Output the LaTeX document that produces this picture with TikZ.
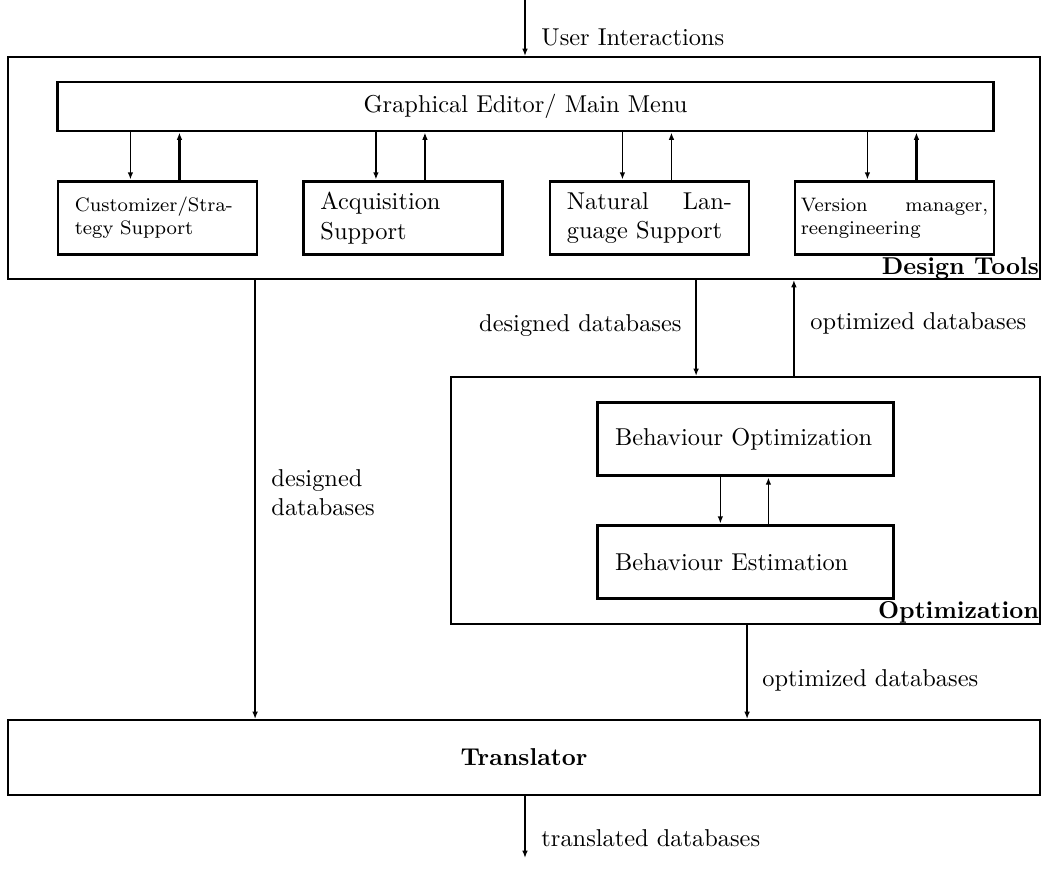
\documentclass[tikz,border=0pt]{standalone}
\usetikzlibrary{arrows.meta}
\begin{document}
\begin{tikzpicture}[x=0.41pt,y=-0.41pt,
  outerbox/.style={draw, line width=0.8pt, inner sep=0pt},
  innerbox/.style={draw, line width=1.2pt, inner ysep=1pt, align=left,
    minimum width=81.6pt, minimum height=30.3pt},
  tip/.style={-{Latex[length=3pt,width=2.3pt]}},
  thinarrow/.style={tip, line width=0.6pt},
  thickarrow/.style={tip, line width=1.1pt},
  lbl/.style={inner sep=0pt, font=\normalsize},
  corner/.style={inner sep=0pt, anchor=base east, font=\bfseries}]
\useasboundingbox (0,0) rectangle (1042,871);

% Design tools
\node[outerbox, minimum width=423.1pt, minimum height=91pt] (dt) at (524,168) {};
\node[corner] (dtl) at ([shift={(-0.6pt,2.2pt)}]dt.south east) {Design Tools};
\node[draw, line width=1.2pt, minimum width=383.4pt, minimum height=20.1pt, inner sep=0pt] (ge) at (525.5,106.5) {Graphical Editor/ Main Menu};

\node[innerbox, text width=67.7pt, inner xsep=6.95pt, font=\footnotesize] (b1) at (157.5,218) {Customizer/Stra-\\tegy Support};
\node[innerbox, text width=67.7pt, inner xsep=6.95pt] (b2) at (403,218) {Acquisition\\Support};
\node[innerbox, text width=67.7pt, inner xsep=6.95pt] (b3) at (649.5,218) {\makebox[67.7pt][l]{Natural\hfill Lan-}\\guage Support};
\node[innerbox, text width=76.8pt, inner xsep=2.4pt, font=\footnotesize] (b4) at (894.5,218) {\makebox[76.8pt][l]{Version\hfill manager,}\\reengineering};

\foreach \b/\t in {b1/thickarrow, b2/thickarrow, b3/thinarrow, b4/thickarrow}{
  \draw[thinarrow] ([xshift=30.3pt]\b.north west |- ge.south) -- ([xshift=30.3pt]\b.north west);
  \draw[\t] ([xshift=50.4pt]\b.north west) -- ([xshift=50.4pt]\b.north west |- ge.south);
}

% User interactions
\coordinate (uitop) at (525,0);
\draw[thickarrow] (uitop) -- (uitop |- dt.north);
\node[lbl, anchor=west] (ui) at (541,37) {User Interactions};

% Optimization
\node[outerbox, minimum width=241.5pt, minimum height=101.3pt] (opt) at (745.5,500.5) {};
\node[corner] (optl) at ([shift={(-0.6pt,2.8pt)}]opt.south east) {Optimization};
\node[innerbox, text width=107pt, inner xsep=7pt, minimum width=121pt] (bo) at (745.5,439) {Behaviour Optimization};
\node[innerbox, text width=107pt, inner xsep=7pt, minimum width=121pt] (be) at (745.5,562) {Behaviour Estimation};
\draw[thinarrow] ([xshift=50.8pt]bo.south west) -- ([xshift=50.8pt]bo.south west |- be.north);
\draw[thinarrow] ([xshift=70.5pt]bo.south west |- be.north) -- ([xshift=70.5pt]bo.south west);

% between Design tools and Optimization
\draw[thickarrow] ([xshift=100.9pt]opt.north west |- dt.south) -- ([xshift=100.9pt]opt.north west);
\node[lbl, anchor=east] (dd1) at (682,326) {designed databases};
\draw[thinarrow] ([xshift=141pt]opt.north west) -- ([xshift=141pt]opt.north west |- dt.south);
\node[lbl, anchor=west] (od1) at (810,323) {optimized databases};

% Translator
\node[outerbox, minimum width=423.1pt, minimum height=30.75pt] (tr) at (524,757.5) {\textbf{Translator}};
\draw[thinarrow] ([xshift=101.7pt]dt.south west) -- ([xshift=101.7pt]dt.south west |- tr.north);
\node[lbl, anchor=west, align=left] (dd2) at (271,493) {designed\\databases};
\draw[thinarrow] ([xshift=121.8pt]opt.south west) -- ([xshift=121.8pt]opt.south west |- tr.north);
\node[lbl, anchor=west] (od2) at (762,680) {optimized databases};

\coordinate (tbot) at (525,858);
\draw[thickarrow] (tbot |- tr.south) -- (tbot);
\node[lbl, anchor=west] (td) at (541,838) {translated databases};
\end{tikzpicture}
\end{document}
